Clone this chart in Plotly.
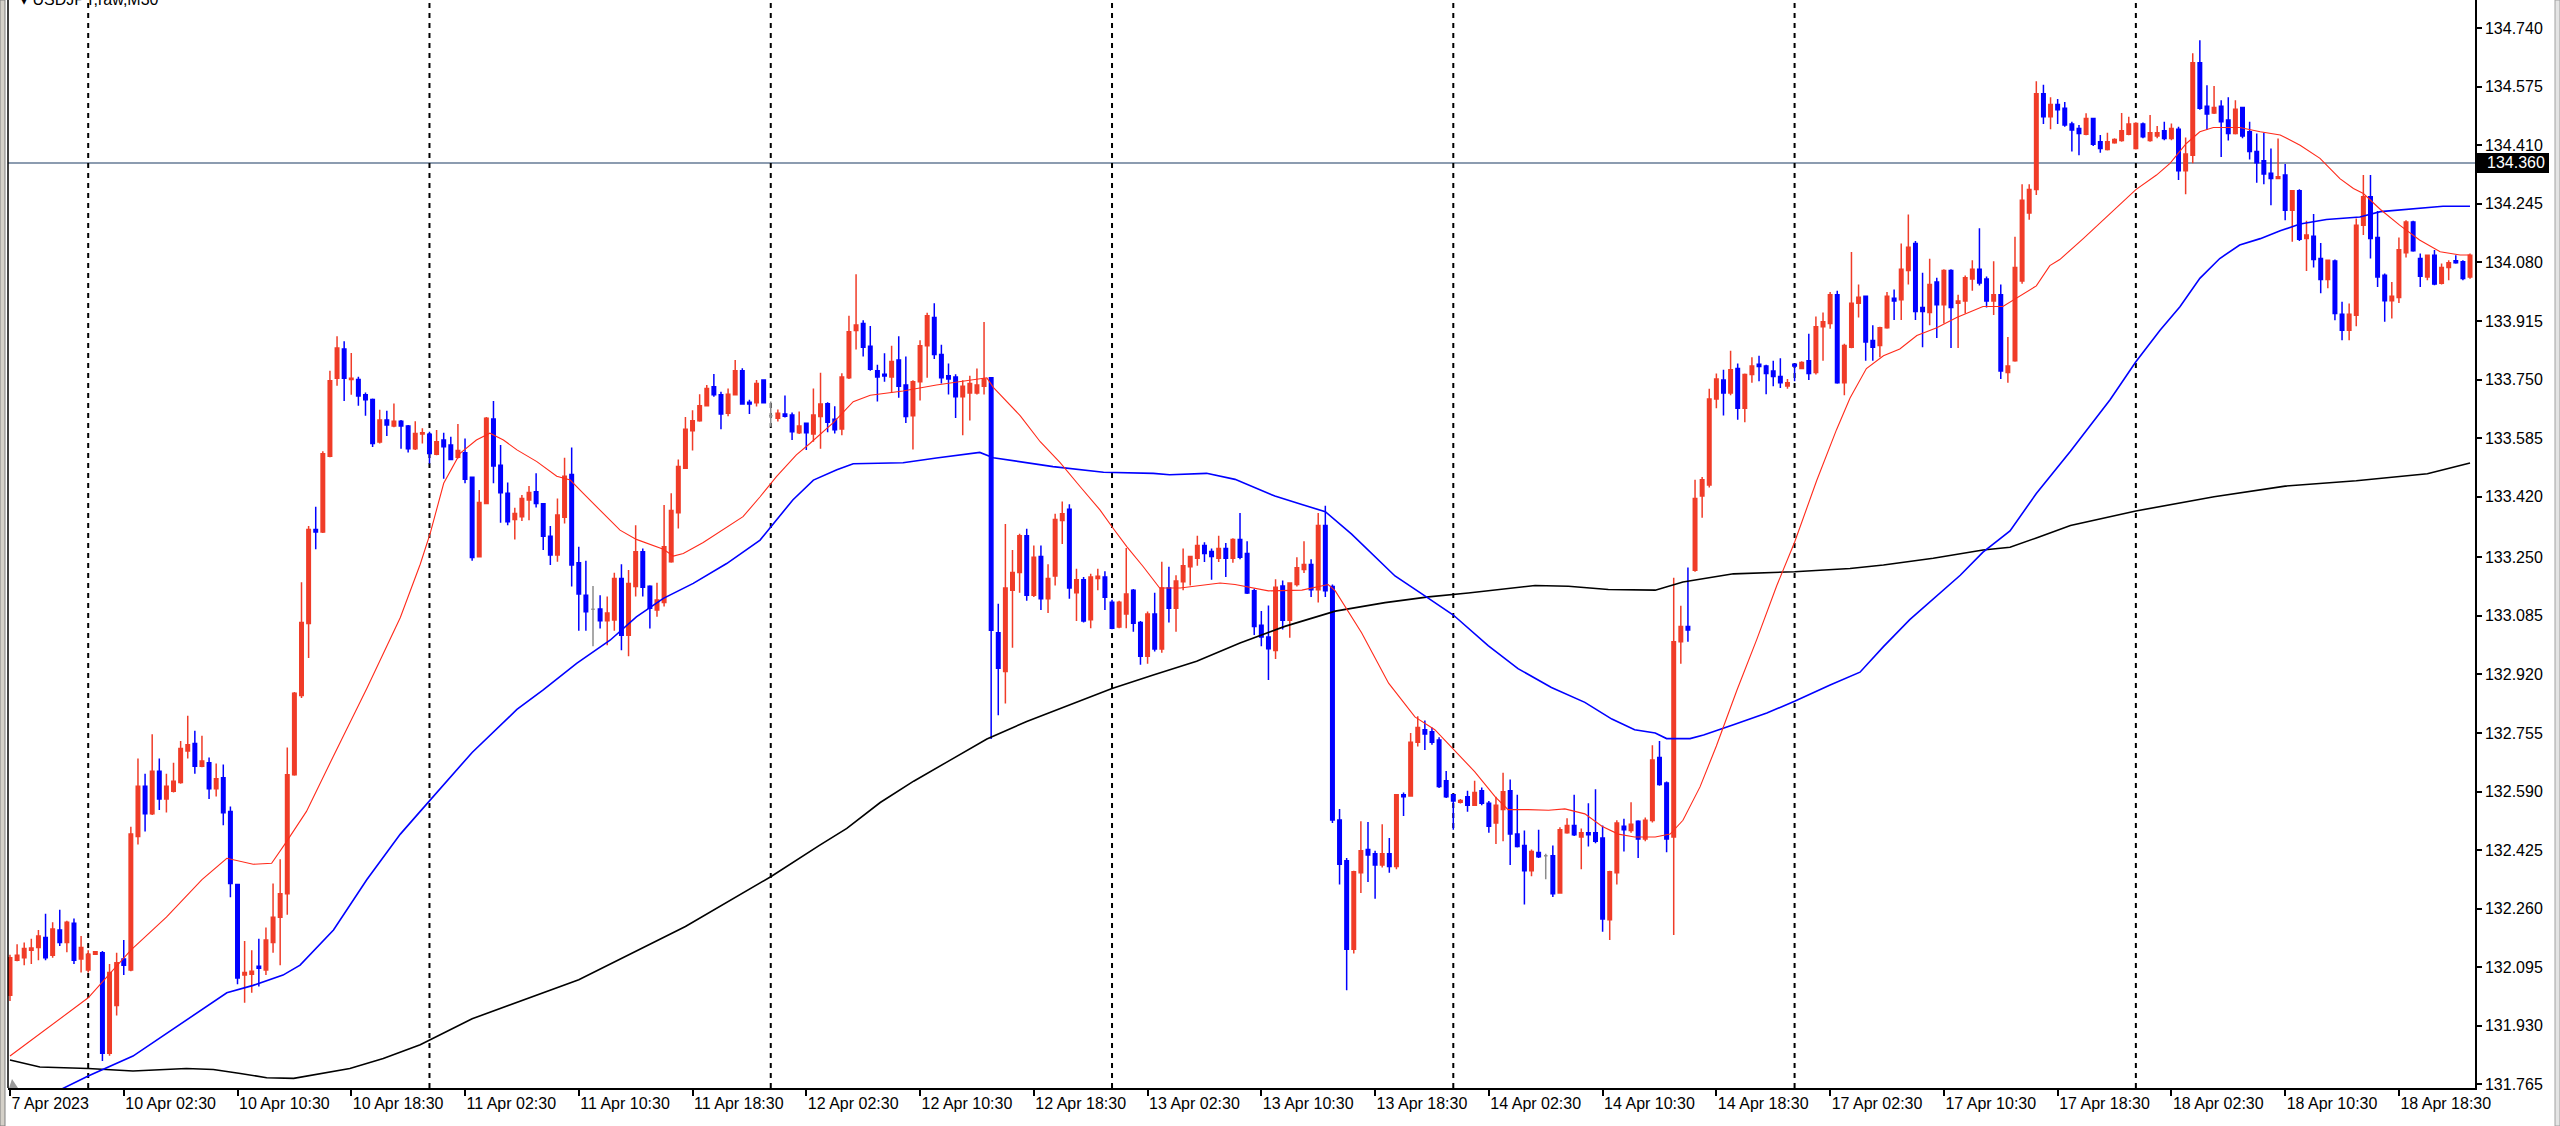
import plotly.graph_objects as go

# ---------------- data (USDJPY M30) ----------------
opens = [
132.016,132.115,132.122,132.143,132.151,132.179,132.129,132.200,132.165,132.219,
132.118,132.087,132.132,132.136,131.853,131.987,132.118,132.087,132.463,132.605,
132.527,132.647,132.569,132.591,132.615,132.704,132.725,132.661,132.671,132.598,
132.629,132.534,132.328,132.073,132.075,132.098,132.087,132.165,132.236,132.302,
132.637,132.860,133.063,133.328,133.321,133.534,133.754,133.836,133.750,133.750,
133.707,133.694,133.574,133.636,133.619,133.633,133.619,133.555,133.597,133.596,
133.540,133.580,133.566,133.531,133.544,133.475,133.251,133.401,133.639,133.509,
133.430,133.356,133.364,133.411,133.434,133.400,133.309,133.256,133.362,133.483,
133.234,133.143,133.103,133.104,133.071,133.073,133.190,133.030,133.167,133.265,
133.168,133.101,133.122,133.237,133.375,133.500,133.606,133.634,133.676,133.730,
133.707,133.655,133.707,133.775,133.686,133.685,133.749,133.648,133.641,133.653,
133.650,133.600,133.627,133.597,133.646,133.682,133.638,133.611,133.755,133.888,
133.908,133.844,133.775,133.765,133.757,133.805,133.735,133.648,133.744,133.845,
133.925,133.821,133.761,133.757,133.702,133.712,133.712,133.731,133.755,133.037,
132.928,133.157,133.207,133.310,133.143,133.252,133.133,133.197,133.353,133.385,
133.150,133.186,133.074,133.190,133.194,133.123,133.053,133.090,133.157,133.066,
132.971,133.090,132.991,133.163,133.106,133.181,133.223,133.247,133.283,133.266,
133.247,133.274,133.247,133.300,133.260,133.155,133.058,133.025,132.987,133.169,
133.072,133.173,133.215,133.229,133.158,133.339,133.167,132.510,132.395,132.146,
132.361,132.427,132.415,132.383,132.415,132.379,132.581,132.577,132.729,132.764,
132.758,132.735,132.620,132.581,132.560,132.575,132.551,132.592,132.557,132.501,
132.539,132.592,132.470,132.438,132.367,132.418,132.409,132.409,132.304,132.474,
132.494,132.462,132.474,132.474,132.459,132.229,132.361,132.492,132.480,132.506,
132.456,132.508,132.686,132.614,132.462,133.012,133.055,133.213,133.422,133.453,
133.695,133.749,133.712,133.781,133.669,133.764,133.793,133.788,133.774,133.759,
133.732,133.793,133.781,133.803,133.770,133.899,133.908,133.989,133.741,133.841,
133.965,133.985,133.860,133.846,133.896,133.979,133.975,134.057,134.133,133.953,
133.939,134.025,133.961,134.057,133.965,133.971,134.033,134.061,134.033,133.971,
133.989,133.770,133.803,134.028,134.219,134.285,134.555,134.490,134.525,134.514,
134.470,134.457,134.441,134.485,134.420,134.398,134.417,134.423,134.441,134.401,
134.470,134.423,134.436,134.451,134.429,134.455,134.338,134.382,134.642,134.520,
134.501,134.520,134.481,134.443,134.516,134.448,134.392,134.366,134.331,134.316,
134.326,134.227,134.282,134.147,134.154,134.091,134.032,134.084,133.934,133.889,
133.931,134.185,134.265,134.150,134.044,133.972,133.981,134.107,134.194,134.091,
134.039,134.100,134.021,134.066,134.085,134.082,134.039]

highs = [
132.130,132.160,132.165,132.175,132.200,132.246,132.222,132.257,132.226,132.232,
132.183,132.143,132.141,132.141,132.104,132.136,132.172,132.491,132.683,132.640,
132.751,132.683,132.640,132.671,132.732,132.803,132.761,132.747,132.686,132.669,
132.666,132.548,132.330,132.169,132.143,132.175,132.207,132.331,132.399,132.714,
132.870,133.179,133.338,133.392,133.548,133.775,133.872,133.858,133.825,133.758,
133.714,133.697,133.665,133.662,133.683,133.636,133.622,133.633,133.613,133.603,
133.608,133.600,133.589,133.625,133.584,133.477,133.439,133.645,133.690,133.566,
133.460,133.389,133.425,133.450,133.486,133.402,133.338,133.415,133.530,133.559,
133.279,133.240,133.169,133.143,133.139,133.206,133.230,133.214,133.340,133.274,
133.171,133.178,133.397,133.430,133.525,133.645,133.664,133.709,133.735,133.766,
133.716,133.725,133.805,133.782,133.693,133.749,133.751,133.688,133.666,133.705,
133.657,133.660,133.629,133.725,133.769,133.686,133.675,133.768,133.930,134.047,
133.917,133.901,133.792,133.824,133.845,133.872,133.815,133.748,133.861,133.938,
133.965,133.848,133.795,133.765,133.748,133.761,133.781,133.912,133.757,133.119,
133.343,133.270,133.316,133.330,133.283,133.283,133.230,133.372,133.407,133.399,
133.217,133.194,133.203,133.217,133.210,133.130,133.127,133.276,133.160,133.070,
133.097,133.150,133.237,133.223,133.199,133.274,133.252,133.310,133.292,133.274,
133.310,133.290,133.303,133.374,133.295,133.161,133.098,133.114,133.188,133.184,
133.179,133.250,133.295,133.244,133.374,133.395,133.173,132.541,132.403,132.367,
132.506,132.504,132.423,132.498,132.459,132.583,132.587,132.755,132.802,132.790,
132.770,132.743,132.648,132.584,132.569,132.592,132.620,132.601,132.563,132.575,
132.643,132.624,132.581,132.480,132.427,132.482,132.415,132.438,132.489,132.515,
132.581,132.486,132.557,132.596,132.494,132.367,132.509,132.513,132.560,132.509,
132.517,132.720,132.732,132.618,133.192,133.113,133.221,133.468,133.476,133.724,
133.767,133.778,133.831,133.795,133.767,133.813,133.817,133.792,133.803,133.810,
133.752,133.796,133.802,133.879,133.928,133.939,133.997,134.000,133.851,134.109,
134.018,133.987,133.903,133.899,133.997,134.004,134.133,134.215,134.140,134.051,
134.090,134.037,134.061,134.061,133.989,134.043,134.086,134.176,134.040,134.083,
134.018,133.870,134.152,134.300,134.300,134.590,134.580,134.545,134.540,134.532,
134.476,134.467,134.500,134.487,134.439,134.445,134.430,134.501,134.490,134.475,
134.474,134.495,134.464,134.476,134.471,134.462,134.432,134.669,134.706,134.579,
134.577,134.537,134.545,134.537,134.518,134.476,134.443,134.445,134.401,134.429,
134.357,134.282,134.286,134.197,134.216,134.135,134.086,134.088,133.969,133.964,
134.204,134.326,134.326,134.225,134.049,134.025,134.150,134.199,134.197,134.105,
134.102,134.115,134.077,134.086,134.100,134.086,134.105]

lows = [
132.000,132.112,132.101,132.104,132.115,132.115,132.122,132.155,132.137,132.104,
132.080,132.080,132.130,131.831,131.846,131.959,132.073,132.084,132.441,132.477,
132.524,132.538,132.531,132.587,132.612,132.683,132.640,132.658,132.569,132.576,
132.495,132.292,132.047,131.995,132.023,132.041,132.073,132.136,132.101,132.243,
132.634,132.853,132.966,133.272,133.318,133.531,133.733,133.690,133.707,133.676,
133.648,133.560,133.570,133.591,133.616,133.555,133.545,133.552,133.570,133.514,
133.537,133.471,133.523,133.528,133.458,133.240,133.249,133.399,133.458,133.347,
133.340,133.300,133.352,133.354,133.390,133.270,133.228,133.237,133.345,133.167,
133.043,133.043,132.999,133.049,133.002,133.043,132.988,132.971,133.139,133.139,
133.049,133.082,133.111,133.234,133.331,133.498,133.550,133.631,133.674,133.702,
133.610,133.647,133.705,133.679,133.653,133.674,133.683,133.617,133.632,133.643,
133.580,133.597,133.552,133.575,133.555,133.602,133.598,133.593,133.752,133.835,
133.815,133.775,133.688,133.744,133.712,133.699,133.628,133.553,133.691,133.755,
133.808,133.739,133.708,133.642,133.593,133.635,133.708,133.708,132.738,132.805,
132.838,132.995,133.150,133.127,133.138,133.101,133.093,133.170,133.287,133.133,
133.070,133.066,133.050,133.157,133.101,133.047,133.050,133.050,133.040,132.947,
132.950,132.984,132.981,133.066,133.040,133.157,133.170,133.226,133.236,133.186,
133.236,133.194,133.234,133.244,133.146,133.031,132.999,132.904,132.963,133.046,
133.023,133.167,133.205,133.138,133.122,133.138,132.501,132.328,132.030,132.134,
132.304,132.335,132.288,132.376,132.361,132.371,132.521,132.575,132.717,132.707,
132.722,132.600,132.572,132.482,132.556,132.533,132.549,132.551,132.474,132.442,
132.450,132.383,132.432,132.272,132.351,132.403,132.343,132.293,132.302,132.471,
132.465,132.371,132.435,132.444,132.195,132.172,132.328,132.421,132.474,132.403,
132.450,132.503,132.606,132.419,132.186,132.950,133.012,133.209,133.361,133.446,
133.669,133.649,133.706,133.637,133.630,133.741,133.745,133.709,133.731,133.726,
133.724,133.745,133.779,133.749,133.764,133.803,133.893,133.738,133.706,133.838,
133.925,133.803,133.803,133.813,133.893,133.918,133.918,134.018,133.918,133.841,
133.903,133.867,133.908,133.839,133.839,133.936,134.000,134.015,133.953,133.932,
133.752,133.741,133.800,134.020,134.200,134.270,134.470,134.455,134.470,134.462,
134.392,134.382,134.438,134.408,134.389,134.395,134.414,134.420,134.438,134.398,
134.430,134.420,134.430,134.424,134.424,134.312,134.272,134.359,134.510,134.453,
134.498,134.377,134.423,134.440,134.430,134.370,134.304,134.300,134.241,134.314,
134.199,134.138,134.140,134.056,134.066,133.993,134.007,133.917,133.861,133.861,
133.900,134.157,134.091,134.011,133.913,133.922,133.966,134.094,134.110,134.011,
134.030,134.016,134.018,134.030,134.076,134.030,134.034]

closes = [
132.122,132.129,132.148,132.149,132.183,132.122,132.203,132.165,132.222,132.115,
132.151,132.132,132.139,131.853,132.080,132.108,132.101,132.470,132.605,132.527,
132.647,132.569,132.605,132.619,132.711,132.722,132.661,132.676,132.598,132.626,
132.530,132.331,132.065,132.080,132.084,132.092,132.172,132.236,132.302,132.637,
132.867,133.066,133.328,133.321,133.541,133.747,133.839,133.754,133.754,133.704,
133.693,133.570,133.636,133.622,133.633,133.619,133.555,133.598,133.600,133.542,
133.575,133.561,133.525,133.550,133.469,133.249,133.404,133.641,133.507,133.431,
133.350,133.373,133.415,133.432,133.401,133.309,133.256,133.369,133.478,133.228,
133.146,133.096,133.103,133.071,133.093,133.190,133.030,133.176,133.265,133.165,
133.106,133.129,133.279,133.381,133.505,133.610,133.634,133.676,133.725,133.707,
133.653,133.709,133.775,133.681,133.681,133.739,133.685,133.648,133.655,133.647,
133.603,133.619,133.600,133.650,133.681,133.630,133.609,133.757,133.885,133.904,
133.841,133.779,133.757,133.760,133.801,133.731,133.646,133.744,133.845,133.930,
133.821,133.755,133.752,133.702,133.731,133.739,133.735,133.752,133.044,132.937,
133.163,133.207,133.310,133.143,133.250,133.133,133.190,133.356,133.372,133.163,
133.186,133.070,133.194,133.196,133.137,133.050,133.123,133.146,133.064,132.971,
133.090,132.991,133.163,133.106,133.183,133.226,133.252,133.283,133.260,133.252,
133.274,133.247,133.300,133.250,133.149,133.055,133.025,132.992,133.165,133.072,
133.177,133.220,133.229,133.158,133.339,133.155,132.510,132.385,132.146,132.364,
132.423,132.411,132.383,132.415,132.379,132.581,132.575,132.729,132.770,132.752,
132.729,132.604,132.575,132.563,132.565,132.551,132.587,132.557,132.492,132.551,
132.589,132.470,132.435,132.367,132.421,132.406,132.409,132.302,132.482,132.494,
132.468,132.474,132.468,132.450,132.231,132.364,132.501,132.482,132.498,132.456,
132.509,132.679,132.610,132.456,133.012,133.055,133.045,133.415,133.468,133.695,
133.752,133.712,133.778,133.669,133.764,133.788,133.787,133.767,133.759,133.741,
133.741,133.788,133.798,133.767,133.899,133.913,133.989,133.741,133.846,133.965,
133.982,133.856,133.841,133.896,133.985,133.971,134.061,134.123,133.942,133.942,
134.018,133.961,134.057,133.953,133.971,134.037,134.061,134.022,133.971,133.989,
133.774,133.788,134.066,134.255,134.285,134.555,134.490,134.525,134.510,134.467,
134.453,134.443,134.485,134.413,134.401,134.420,134.426,134.451,134.470,134.471,
134.434,134.445,134.445,134.429,134.457,134.338,134.385,134.642,134.514,134.498,
134.516,134.476,134.443,134.511,134.436,134.392,134.361,134.329,134.316,134.321,
134.227,134.282,134.145,134.157,134.088,134.032,134.086,133.936,133.889,133.934,
134.185,134.265,134.147,134.039,133.972,133.985,134.116,134.194,134.113,134.041,
134.100,134.019,134.066,134.079,134.079,134.035,134.100]

# moving averages, sampled along each line (bar position, price)
ma_red_x = [0, 11, 17, 22, 27, 30.5, 34.2, 36.8, 38.9, 41.7, 45.5, 50.2, 54.9, 57.7, 59.1, 61,
            63.3, 65.6, 67.5, 69.4, 71.3, 74.1, 76.9, 78.8, 80.6, 83.4, 85.8, 88.1, 90, 91.9,
            93.3, 94.7, 97.5, 99.9, 103.1, 105.5, 107.8, 110.6, 112.5, 115.8, 118.6, 121,
            125.6, 130.3, 135, 137.4, 138.3, 142.1, 144.9, 147.7, 150.5, 153.3, 155.2, 157.1,
            159.4, 161.7, 164.6, 167.4, 170.2, 172.3, 177, 181.7, 185.4, 186.4, 190.1, 193.9,
            197.6, 200.4, 203.2, 206, 208.9, 210.7, 213.5, 216.4, 218.7, 221.5, 223.9, 226.2,
            228.5, 231.4, 233.5, 235.3, 237.7, 240, 242.9, 245.7, 248.5, 251, 254.1, 256.9,
            258.8, 261.1, 263.5, 265.8, 268.2, 271, 273.8, 277.5, 280.3, 282.2, 285, 286.9,
            288.3, 291.6, 295.4, 299, 301.9, 303.8, 306.1, 308, 309.9, 313.6, 316.5, 319.3,
            322.1, 324.9, 327.7, 329.6, 331, 333.4, 336.1, 338.9, 341.8, 344.6, 346]
ma_red_y = [131.845, 132.009, 132.143, 132.236, 132.342, 132.402, 132.385, 132.388, 132.449,
            132.534, 132.690, 132.881, 133.080, 133.230, 133.317, 133.458, 133.542, 133.580,
            133.599, 133.580, 133.552, 133.519, 133.478, 133.467, 133.430, 133.373, 133.326,
            133.300, 133.286, 133.272, 133.253, 133.260, 133.291, 133.322, 133.364, 133.420,
            133.477, 133.538, 133.570, 133.629, 133.688, 133.706, 133.718, 133.735, 133.748,
            133.755, 133.728, 133.648, 133.575, 133.516, 133.449, 133.383, 133.330, 133.279,
            133.223, 133.163, 133.163, 133.170, 133.177, 133.173, 133.155, 133.157, 133.173,
            133.155, 133.037, 132.895, 132.800, 132.764, 132.705, 132.646, 132.575, 132.539,
            132.539, 132.537, 132.541, 132.527, 132.492, 132.470, 132.462, 132.462, 132.470,
            132.509, 132.603, 132.718, 132.876, 133.019, 133.170, 133.292, 133.465, 133.609,
            133.698, 133.781, 133.817, 133.836, 133.874, 133.896, 133.925, 133.956, 133.956,
            133.979, 134.014, 134.071, 134.088, 134.147, 134.218, 134.285, 134.326, 134.359,
            134.415, 134.448, 134.460, 134.460, 134.448, 134.439, 134.410, 134.373, 134.316,
            134.288, 134.274, 134.229, 134.185, 134.143, 134.110, 134.101, 134.101]

ma_blue_x = [0, 7.5, 11, 17.3, 22, 26.7, 30.5, 34.2, 38.4, 40.8, 45.5, 50.2, 54.9, 57.7, 65,
             71.3, 75, 79.7, 84.4, 88.1, 91.9, 96.1, 100.8, 105.5, 107.8, 110.1, 113, 116.3,
             118.6, 125.6, 130.3, 136.4, 138.3, 142.1, 146.7, 153.8, 160.8, 163.1, 168.3,
             172.3, 177.9, 181.7, 185, 188.7, 194.8, 199, 203, 207.9, 212.1, 216.8, 221.5,
             225.3, 228.5, 231.4, 233, 236.3, 238.2, 242.4, 247.1, 251, 256, 260.2, 263.5,
             267.2, 271, 274.3, 277.5, 281.3, 285, 289.8, 295.4, 299, 302.4, 305.2, 308,
             310.8, 313.6, 316.5, 319.3, 322.1, 325.8, 330.5, 333.4, 337.1, 342.2, 346]
ma_blue_y = [131.680, 131.753, 131.789, 131.845, 131.909, 131.973, 132.023, 132.044, 132.073,
             132.101, 132.200, 132.342, 132.470, 132.534, 132.700, 132.821, 132.876, 132.951,
             133.016, 133.082, 133.134, 133.176, 133.232, 133.298, 133.354, 133.411, 133.467,
             133.496, 133.513, 133.516, 133.529, 133.545, 133.530, 133.518, 133.505, 133.489,
             133.486, 133.482, 133.486, 133.469, 133.422, 133.398, 133.378, 133.315, 133.197,
             133.141, 133.087, 133.001, 132.936, 132.883, 132.841, 132.794, 132.764, 132.755,
             132.739, 132.739, 132.749, 132.778, 132.811, 132.844, 132.890, 132.926, 132.998,
             133.074, 133.142, 133.199, 133.264, 133.324, 133.429, 133.548, 133.694, 133.800,
             133.889, 133.955, 134.035, 134.091, 134.129, 134.147, 134.169, 134.188, 134.201,
             134.208, 134.223, 134.229, 134.238, 134.238]

ma_black_x = [0, 4.2, 11, 17.3, 24.8, 28.6, 32.4, 36.1, 39.9, 43.6, 47.8, 52.5, 57.7, 65, 80,
              95, 107, 113.9, 117.7, 122.4, 127.1, 131.7, 137.4, 143, 149.1, 155, 160.8, 166.9,
              173, 179.3, 186.4, 193.4, 199.5, 205.1, 214.5, 219.2, 224.8, 231.4, 235.3, 242.4,
              251, 258.8, 263.5, 270.5, 277.5, 281.3, 285, 289.8, 299, 310, 320, 330, 340, 346]
ma_black_y = [131.834, 131.814, 131.810, 131.803, 131.810, 131.807, 131.796, 131.784, 131.782,
              131.796, 131.810, 131.838, 131.877, 131.950, 132.060, 132.210, 132.350, 132.439,
              132.486, 132.559, 132.619, 132.672, 132.738, 132.787, 132.835, 132.880, 132.918,
              132.957, 133.008, 133.055, 133.098, 133.122, 133.138, 133.149, 133.170, 133.168,
              133.159, 133.157, 133.180, 133.203, 133.209, 133.218, 133.228, 133.247, 133.270,
              133.278, 133.304, 133.339, 133.380, 133.420, 133.450, 133.465, 133.485, 133.515]

x_tick_bars = [0, 16, 32, 48, 64, 80, 96, 112, 128, 144, 160, 176, 192, 208, 224, 240,
               256, 272, 288, 304, 320, 336]
x_tick_labels = ["7 Apr 2023", "10 Apr 02:30", "10 Apr 10:30", "10 Apr 18:30",
                 "11 Apr 02:30", "11 Apr 10:30", "11 Apr 18:30", "12 Apr 02:30",
                 "12 Apr 10:30", "12 Apr 18:30", "13 Apr 02:30", "13 Apr 10:30",
                 "13 Apr 18:30", "14 Apr 02:30", "14 Apr 10:30", "14 Apr 18:30",
                 "17 Apr 02:30", "17 Apr 10:30", "17 Apr 18:30", "18 Apr 02:30",
                 "18 Apr 10:30", "18 Apr 18:30"]
y_ticks = [131.765, 131.930, 132.095, 132.260, 132.425, 132.590, 132.755, 132.920, 133.085,
           133.250, 133.420, 133.585, 133.750, 133.915, 134.080, 134.245, 134.410, 134.575,
           134.740]
day_separator_bars = [11, 59, 107, 155, 203, 251, 299]
price_line = 134.360
title_text = "\u25be USDJPY,raw,M30"

# ---------------- figure ----------------
W, H = 2560, 1126
ML, MR, MT, MB = 8, 85, 0, 38
PW = W - ML - MR
PH = H - MT - MB

def px_x(p):
    return (p - ML) / PW

def px_y(p):
    return (H - MB - p) / PH

bars = list(range(len(opens)))
reg = [i for i in bars if opens[i] != closes[i]]
doji = [i for i in bars if opens[i] == closes[i]]

RED = "#f03c28"
BLUE = "#0000ff"
FONT = "Liberation Sans, Arial, DejaVu Sans, sans-serif"

fig = go.Figure()
fig.add_trace(go.Candlestick(
    x=reg, open=[opens[i] for i in reg], high=[highs[i] for i in reg],
    low=[lows[i] for i in reg], close=[closes[i] for i in reg],
    increasing=dict(line=dict(color=RED, width=1.5), fillcolor=RED),
    decreasing=dict(line=dict(color=BLUE, width=1.5), fillcolor=BLUE),
    whiskerwidth=0, hoverinfo="skip", showlegend=False))
fig.add_trace(go.Candlestick(
    x=doji, open=[opens[i] for i in doji], high=[highs[i] for i in doji],
    low=[lows[i] for i in doji], close=[closes[i] for i in doji],
    increasing=dict(line=dict(color="#8c8c8c", width=1.5), fillcolor="#8c8c8c"),
    decreasing=dict(line=dict(color="#8c8c8c", width=1.5), fillcolor="#8c8c8c"),
    whiskerwidth=0, hoverinfo="skip", showlegend=False))

fig.add_trace(go.Scatter(x=ma_black_x, y=ma_black_y, mode="lines",
                         line=dict(color="#000000", width=1.6), hoverinfo="skip", showlegend=False))
fig.add_trace(go.Scatter(x=ma_blue_x, y=ma_blue_y, mode="lines",
                         line=dict(color=BLUE, width=1.6), hoverinfo="skip", showlegend=False))
fig.add_trace(go.Scatter(x=ma_red_x, y=ma_red_y, mode="lines",
                         line=dict(color="#ff2a1a", width=1.1), hoverinfo="skip", showlegend=False))

shapes = []
# price line
shapes.append(dict(type="line", xref="paper", yref="y", x0=0, x1=1, y0=price_line, y1=price_line,
                   line=dict(color="#8c9cb0", width=2), layer="below"))
# day separators
for b in day_separator_bars:
    shapes.append(dict(type="line", xref="x", yref="paper", x0=b, x1=b, y0=0, y1=1,
                       line=dict(color="#000000", width=2, dash="5px,5px"), layer="below"))
# left frame
shapes.append(dict(type="rect", xref="paper", yref="paper", x0=px_x(0), x1=px_x(5),
                   y0=px_y(H), y1=px_y(0), fillcolor="#d4d0c8", line=dict(color="#808080", width=1)))
shapes.append(dict(type="line", xref="paper", yref="paper", x0=0, x1=0, y0=0, y1=1,
                   line=dict(color="#000000", width=1.5)))
# right frame strip
shapes.append(dict(type="rect", xref="paper", yref="paper", x0=px_x(2555), x1=px_x(2560),
                   y0=px_y(H), y1=px_y(0), fillcolor="#e4e4e4", line=dict(color="#a0a0a0", width=1)))
# price label box
shapes.append(dict(type="rect", xref="paper", yref="paper", x0=px_x(2477), x1=px_x(2549),
                   y0=px_y(173), y1=px_y(153), fillcolor="#000000", line=dict(width=0)))
# small marker at the bottom-left corner
shapes.append(dict(type="path", xref="paper", yref="paper",
                   path="M {a},{b} L {c},{d} L {e},{b} Z".format(
                       a=px_x(9), b=px_y(1088), c=px_x(12), d=px_y(1079), e=px_x(18)),
                   fillcolor="#9a9a9a", line=dict(width=0)))

annotations = [
    dict(text=title_text, xref="paper", yref="paper", x=px_x(18), y=1, xanchor="left",
         yanchor="middle", yshift=1, showarrow=False,
         font=dict(family=FONT, size=16, color="#000000")),
    dict(text="134.360", xref="paper", yref="paper", x=px_x(2485), y=px_y(163),
         xanchor="left", yanchor="middle", showarrow=False,
         font=dict(family=FONT, size=16, color="#ffffff")),
]

fig.update_layout(
    width=W, height=H,
    margin=dict(l=ML, r=MR, t=MT, b=MB, autoexpand=False),
    paper_bgcolor="#ffffff", plot_bgcolor="#ffffff",
    showlegend=False, hovermode=False,
    shapes=shapes, annotations=annotations,
    xaxis=dict(range=[-0.28, 346.7], showgrid=False, zeroline=False,
               showline=True, linecolor="#000000", linewidth=1.5,
               ticks="outside", ticklen=6, tickwidth=1.5, tickcolor="#000000",
               tickmode="array", tickvals=x_tick_bars, ticktext=x_tick_labels,
               ticklabelposition="outside right", ticklabeloverflow="allow",
               tickfont=dict(family=FONT, size=16, color="#000000"),
               rangeslider=dict(visible=False), fixedrange=True, automargin=False),
    yaxis=dict(range=[131.755, 134.819], side="right", showgrid=False, zeroline=False,
               showline=True, linecolor="#000000", linewidth=1.5,
               ticks="outside", ticklen=5, tickwidth=1.5, tickcolor="#000000",
               tickmode="array", tickvals=y_ticks, ticktext=["%.3f" % v for v in y_ticks],
               tickfont=dict(family=FONT, size=16, color="#000000"), fixedrange=True,
               automargin=False),
)

# the page's default body margin would offset the figure; remove it
fig.write_html("out.html", config={"displayModeBar": False},
               post_script="document.body.style.margin='0';document.body.style.overflow='hidden';")
